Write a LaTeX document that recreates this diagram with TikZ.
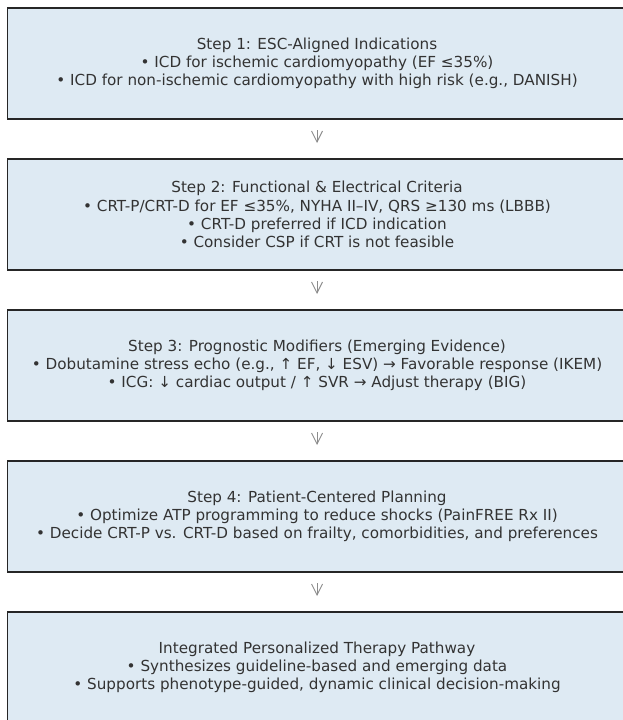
\documentclass[tikz,border=0pt]{standalone}
\usepackage{fontspec}
\setmainfont{DejaVu Sans}
\usetikzlibrary{positioning, arrows.meta}

\definecolor{boxfill}{HTML}{DEEAF3}
\definecolor{boxtext}{HTML}{333333}

\begin{document}
\begin{tikzpicture}[
  x=1pt, y=1pt,
  node distance=40pt,
  stepbox/.style={
    draw=black!85,
    line width=1.5pt,
    fill=boxfill,
    text=boxtext,
    rectangle,
    minimum width=619pt,
    minimum height=111pt,
    inner sep=0pt,
    outer sep=0pt,
    align=center,
    font=\fontsize{15.2}{18.2}\selectfont
    },
  flow/.style={
    draw=black!45,
    line width=0.9pt,
    -{Straight Barb[length=11pt, width=11pt]},
    shorten <=11pt,
    shorten >=16pt
    }
]
\useasboundingbox (0,0) rectangle (622,-720);

\node[stepbox] (step1) at (317,-63.5)
  {Step 1: ESC-Aligned Indications\\
   • ICD for ischemic cardiomyopathy (EF ≤35\%)\\
   • ICD for non-ischemic cardiomyopathy with high risk (e.g., DANISH)};

\node[stepbox, below=of step1] (step2)
  {Step 2: Functional \& Electrical Criteria\\
   • CRT-P/CRT-D for EF ≤35\%, NYHA II–IV, QRS ≥130 ms (LBBB)\\
   • CRT-D preferred if ICD indication\\
   • Consider CSP if CRT is not feasible};

\node[stepbox, below=of step2] (step3)
  {Step 3: Prognostic Modifiers (Emerging Evidence)\\
   • Dobutamine stress echo (e.g., ↑ EF, ↓ ESV) → Favorable response (IKEM)\\
   • ICG: ↓ cardiac output / ↑ SVR → Adjust therapy (BIG)};

\node[stepbox, below=of step3] (step4)
  {Step 4: Patient-Centered Planning\\
   • Optimize ATP programming to reduce shocks (PainFREE Rx II)\\
   • Decide CRT-P vs. CRT-D based on frailty, comorbidities, and preferences};

\node[stepbox, below=of step4] (pathway)
  {Integrated Personalized Therapy Pathway\\
   • Synthesizes guideline-based and emerging data\\
   • Supports phenotype-guided, dynamic clinical decision-making};

\draw[flow] (step1) -- (step2);
\draw[flow] (step2) -- (step3);
\draw[flow] (step3) -- (step4);
\draw[flow] (step4) -- (pathway);

\end{tikzpicture}
\end{document}
